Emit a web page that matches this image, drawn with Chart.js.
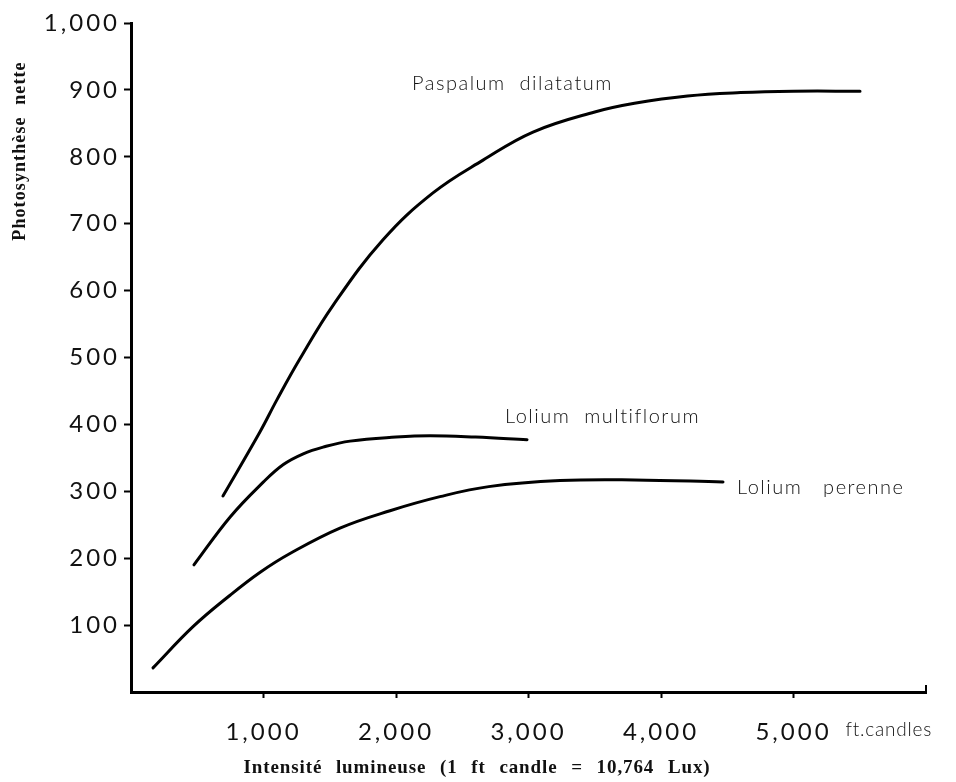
<!DOCTYPE html>
<html>
<head>
<meta charset="utf-8">
<script src="https://cdn.jsdelivr.net/npm/chart.js@4/dist/chart.umd.min.js"></script>
<style>
  html, body { margin: 0; padding: 0; background: #fff; }
  canvas { display: block; }
</style>
</head>
<body>
<canvas id="c" width="956" height="782"></canvas>
<script>
// ---- Data ----
const paspalumX = [694, 974, 1102, 1275, 1525, 1902, 2279, 2657, 3034, 3500, 3800, 4200, 4600, 5000, 5502];
const paspalumY = [293, 389, 437, 498, 578, 676, 746, 795, 837, 867, 880, 891, 896, 898, 898];

const multiflorumX = [475, 750, 1000, 1150, 1300, 1450, 1653, 2000, 2257, 2600, 2989];
const multiflorumY = [190, 262, 314, 340, 356, 366, 375, 381, 383, 381, 377];

const perenneX = [166, 470, 750, 975, 1200, 1577, 1955, 2332, 2700, 3238, 3800, 4468];
const perenneY = [36, 98, 145, 179, 207, 245, 271, 292, 307, 316, 317, 314];

const seriesNames = ["Paspalum  dilatatum", "Lolium  multiflorum", "Lolium   perenne"];
const xTickValues = [1000, 2000, 3000, 4000, 5000];
const yTickValues = [100, 200, 300, 400, 500, 600, 700, 800, 900, 1000];

const xTitle = "Intensité lumineuse (1 ft candle = 10,764 Lux)";
const yTitle = "Photosynthèse nette";
const xUnit = "ft.candles";

function pts(xs, ys) { return xs.map((x, i) => ({ x: x, y: ys[i] })); }
function fmt(v) { return v >= 1000 ? Math.floor(v / 1000) + "," + String(v % 1000).padStart(3, "0") : String(v); }

// label anchors in data coordinates (left edge, vertical middle)
const labelAnchors = [
  { text: seriesNames[0], x: 2121, y: 910 },
  { text: seriesNames[1], x: 2823, y: 411 },
  { text: seriesNames[2], x: 4574, y: 305 }
];

const TICK_FONT = { family: "Lato", size: 24, weight: "400" };

const annotate = {
  id: "annotate",
  beforeDraw(chart) {
    chart.ctx.letterSpacing = "3px";
  },
  afterDraw(chart) {
    const ctx = chart.ctx;
    const xs = chart.scales.x, ys = chart.scales.y;
    ctx.save();
    ctx.fillStyle = "#111";
    ctx.textBaseline = "middle";
    // series labels
    ctx.font = "300 20px Lato";
    ctx.letterSpacing = "1.5px";
    ctx.textAlign = "left";
    labelAnchors.forEach(a => {
      ctx.fillText(a.text, xs.getPixelForValue(a.x), ys.getPixelForValue(a.y));
    });
    // unit after last tick label
    ctx.font = "300 19px Lato";
    ctx.letterSpacing = "0.8px";
    ctx.fillText(xUnit, xs.getPixelForValue(5000) + 52, xs.bottom - 52);
    // x axis title
    ctx.font = "bold 19px 'Liberation Serif'";
    ctx.letterSpacing = "0.9px";
    ctx.wordSpacing = "8px";
    ctx.textAlign = "center";
    ctx.fillText(xTitle, chart.chartArea.left + 346, chart.chartArea.bottom + 76);
    // y axis title (rotated)
    ctx.save();
    ctx.translate(20, chart.chartArea.top + 128);
    ctx.rotate(-Math.PI / 2);
    ctx.font = "bold 18px 'Liberation Serif'";
    ctx.letterSpacing = "1.1px";
    ctx.wordSpacing = "6px";
    ctx.fillText(yTitle, 0, 0);
    ctx.restore();
    ctx.wordSpacing = "0px";
    // upward end tick at the right end of the x axis
    ctx.strokeStyle = "#000";
    ctx.lineWidth = 2;
    ctx.beginPath();
    const xe = xs.getPixelForValue(6000);
    ctx.moveTo(xe, chart.chartArea.bottom);
    ctx.lineTo(xe, chart.chartArea.bottom - 7);
    ctx.stroke();
    ctx.restore();
    ctx.letterSpacing = "0px";
  }
};

const lineStyle = {
  borderColor: "#000",
  borderWidth: 3,
  pointRadius: 0,
  fill: false,
  tension: 0.4,
  borderCapStyle: "round"
};

new Chart(document.getElementById("c"), {
  type: "line",
  data: {
    datasets: [
      Object.assign({ label: seriesNames[0], data: pts(paspalumX, paspalumY) }, lineStyle),
      Object.assign({ label: seriesNames[1], data: pts(multiflorumX, multiflorumY) }, lineStyle),
      Object.assign({ label: seriesNames[2], data: pts(perenneX, perenneY) }, lineStyle)
    ]
  },
  options: {
    responsive: false,
    animation: false,
    layout: { padding: { left: 0, top: 23, right: 30, bottom: 0 } },
    plugins: { legend: { display: false }, tooltip: { enabled: false } },
    scales: {
      x: {
        type: "linear",
        min: 0, max: 6000,
        afterBuildTicks(scale) { scale.ticks = [0].concat(xTickValues, [6000]).map(v => ({ value: v })); },
        afterFit(scale) { scale.height = 90; },
        border: { color: "#000", width: 3 },
        grid: {
          drawOnChartArea: false, drawTicks: true, tickLength: 6, tickWidth: 2,
          tickColor: ctx => (xTickValues.includes(ctx.tick && ctx.tick.value) ? "#000" : "rgba(0,0,0,0)")
        },
        ticks: {
          color: "#111",
          font: TICK_FONT,
          padding: 20,
          maxRotation: 0,
          autoSkip: false,
          callback: v => (xTickValues.includes(v) ? fmt(v) : "")
        }
      },
      y: {
        type: "linear",
        min: 0, max: 1000,
        afterBuildTicks(scale) { scale.ticks = [0].concat(yTickValues).map(v => ({ value: v })); },
        afterFit(scale) { scale.width = 131; },
        border: { color: "#000", width: 3 },
        grid: {
          drawOnChartArea: false, drawTicks: true, tickLength: 7, tickWidth: 2,
          tickColor: ctx => (yTickValues.includes(ctx.tick && ctx.tick.value) ? "#000" : "rgba(0,0,0,0)")
        },
        ticks: {
          color: "#111",
          font: TICK_FONT,
          padding: 4,
          autoSkip: false,
          callback: v => (yTickValues.includes(v) ? fmt(v) : "")
        }
      }
    }
  },
  plugins: [annotate]
});
</script>
</body>
</html>
